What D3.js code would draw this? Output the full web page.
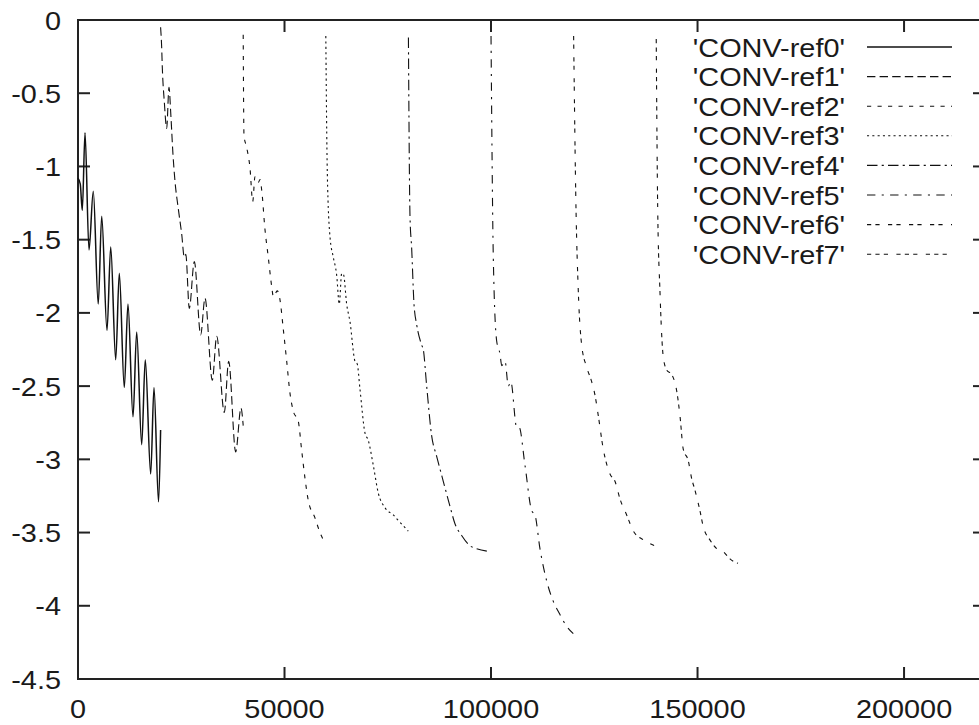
<!DOCTYPE html>
<html>
<head>
<meta charset="utf-8">
<script src="https://cdn.jsdelivr.net/npm/d3@7"></script>
<style>
  body { margin: 0; background: #fff; }
  text { font-family: "Liberation Sans", Arial, Helvetica, sans-serif; fill: #1a1a1a; }
</style>
</head>
<body>
<div id="chart"></div>
<script>
// data: [iteration, log10 residual]
var ref0 = [[0,-1.08],[550,-1.12],[1040,-1.30],[1700,-0.77],[2660,-1.57],[3700,-1.17],[4900,-1.94],
  [5740,-1.34],[7020,-2.12],[7920,-1.55],[9130,-2.32],[10000,-1.73],[11210,-2.51],[12100,-1.94],
  [13320,-2.71],[14210,-2.13],[15420,-2.90],[16290,-2.32],[17600,-3.10],[18400,-2.51],[19500,-3.29],[20000,-2.80]];
var ref1 = [[20000,-0.05],[20250,-0.18],[20420,-0.33],[20900,-0.56],[21470,-0.74],[22030,-0.46],[22500,-0.66],
  [23000,-0.92],[23480,-1.10],[24290,-1.29],[25100,-1.46],[25740,-1.62],[26100,-1.60],[26950,-1.97],
  [28160,-1.65],[29700,-2.15],[30750,-1.90],[32520,-2.46],[33580,-2.16],[35420,-2.68],[36480,-2.33],
  [38180,-2.95],[39460,-2.65],[40000,-2.77]];
var ref2 = [[40000,-0.10],[40190,-0.79],[40840,-0.87],[41640,-1.01],[42300,-1.24],[42850,-1.07],[43650,-1.11],
  [44060,-1.09],[44470,-1.16],[45270,-1.43],[46070,-1.62],[46900,-1.82],[47300,-1.89],[48250,-1.85],
  [48900,-1.91],[49700,-2.11],[50530,-2.33],[51330,-2.55],[52120,-2.67],[53330,-2.74],[54160,-2.94],
  [54960,-3.13],[55750,-3.28],[57380,-3.40],[58590,-3.50],[59800,-3.57]];
var ref3 = [[60000,-0.11],[60360,-1.04],[61010,-1.48],[61810,-1.62],[62620,-1.74],[63260,-1.94],[63840,-1.73],
  [64300,-1.74],[65050,-1.94],[65850,-2.06],[67060,-2.33],[67620,-2.35],[68270,-2.52],[69480,-2.82],
  [70280,-2.87],[71490,-3.04],[72700,-3.23],[74320,-3.33],[76330,-3.38],[77960,-3.43],[79970,-3.49]];
var ref4 = [[80000,-0.12],[80380,-1.34],[80790,-1.56],[81350,-1.94],[82000,-2.08],[83210,-2.22],[83600,-2.25],
  [84420,-2.50],[85630,-2.84],[86840,-2.98],[88440,-3.15],[90060,-3.32],[91270,-3.44],[92890,-3.52],
  [94900,-3.59],[96520,-3.61],[99750,-3.63]];
var ref5 = [[100000,-0.11],[100550,-1.62],[101360,-2.19],[102170,-2.28],[102600,-2.36],[103400,-2.33],
  [104180,-2.50],[104800,-2.47],[106200,-2.78],[106800,-2.78],[108220,-3.04],[109840,-3.35],[110640,-3.38],
  [111850,-3.61],[113470,-3.83],[115080,-3.97],[116690,-4.06],[118310,-4.14],[119920,-4.19]];
var ref6 = [[120000,-0.11],[120570,-1.28],[121130,-1.85],[121950,-2.22],[123150,-2.37],[124370,-2.47],
  [125160,-2.56],[125960,-2.70],[127180,-2.93],[128800,-3.10],[130010,-3.15],[131220,-3.27],[132840,-3.38],
  [134460,-3.49],[136870,-3.55],[139690,-3.59]];
var ref7 = [[140000,-0.13],[140350,-1.28],[140900,-1.85],[141700,-2.30],[142530,-2.39],[143730,-2.42],
  [144940,-2.53],[145740,-2.70],[146540,-2.93],[147760,-3.01],[148570,-3.13],[149370,-3.21],[150580,-3.35],
  [151390,-3.46],[153000,-3.55],[154630,-3.61],[156230,-3.63],[157850,-3.68],[159800,-3.71]];

var names = ["'CONV-ref0'", "'CONV-ref1'", "'CONV-ref2'", "'CONV-ref3'",
             "'CONV-ref4'", "'CONV-ref5'", "'CONV-ref6'", "'CONV-ref7'"];
var series = [ref0, ref1, ref2, ref3, ref4, ref5, ref6, ref7];
var xTicks = [0, 50000, 100000, 150000, 200000];
var yTicks = [0, -0.5, -1, -1.5, -2, -2.5, -3, -3.5, -4, -4.5];

// gnuplot postscript dash patterns
var dashes = ["none", "8.4,4.2", "4.2,6.3", "2.1,3.2", "10.5,4.2,2.1,4.2",
              "8.4,6.3,2.1,6.3", "4.2,4.2,4.2,8.4", "4.2,4.2,4.2,4.2,4.2,8.4"];

var W = 979, H = 725;
var plot = {left: 78, top: 20, right: 985, bottom: 679};

var svg = d3.select("#chart").append("svg")
    .attr("width", W)
    .attr("height", H);

var x = d3.scaleLinear().domain([0, 219600]).range([plot.left, plot.right]);
var y = d3.scaleLinear().domain([-4.5, 0]).range([plot.bottom, plot.top]);

// text in the original is a bit wider than Helvetica
function label(g, tx, ty, str, anchor) {
  return g.append("text")
    .attr("transform", "translate(" + tx + "," + ty + ") scale(1.09,1)")
    .attr("text-anchor", anchor)
    .style("font-size", "26.5px")
    .text(str);
}

var axes = svg.append("g");
var tick = 12;

yTicks.forEach(function(v) {
  axes.append("line").attr("x1", plot.left).attr("x2", plot.left + tick)
    .attr("y1", y(v)).attr("y2", y(v)).attr("stroke", "#222").attr("stroke-width", 2);
  axes.append("line").attr("x1", plot.right).attr("x2", plot.right - tick)
    .attr("y1", y(v)).attr("y2", y(v)).attr("stroke", "#222").attr("stroke-width", 2);
  label(axes, 61, y(v) + 9.5, String(v), "end");
});

xTicks.forEach(function(v) {
  axes.append("line").attr("x1", x(v)).attr("x2", x(v))
    .attr("y1", plot.bottom).attr("y2", plot.bottom - tick).attr("stroke", "#222").attr("stroke-width", 2);
  axes.append("line").attr("x1", x(v)).attr("x2", x(v))
    .attr("y1", plot.top).attr("y2", plot.top + tick).attr("stroke", "#222").attr("stroke-width", 2);
  label(axes, x(v), 718, String(v), "middle");
});

axes.append("rect")
  .attr("x", plot.left).attr("y", plot.top)
  .attr("width", plot.right - plot.left).attr("height", plot.bottom - plot.top)
  .attr("fill", "none").attr("stroke", "#222").attr("stroke-width", 2);

var line = d3.line()
  .x(function(d) { return x(d[0]); })
  .y(function(d) { return y(d[1]); })
  .curve(d3.curveMonotoneX);

svg.append("g").selectAll("path")
  .data(series)
  .enter().append("path")
    .attr("d", line)
    .attr("fill", "none")
    .attr("stroke", "#111")
    .attr("stroke-width", function(d, i) { return i == 0 ? 1.5 : 1.1; })
    .attr("stroke-dasharray", function(d, i) { return dashes[i]; });

// key, top right
var key = svg.append("g");
names.forEach(function(n, i) {
  var ky = 47 + i * 29.6;
  label(key, 845, ky + 9.5, n, "end");
  key.append("line")
    .attr("x1", 867).attr("x2", 952)
    .attr("y1", ky).attr("y2", ky)
    .attr("stroke", "#111").attr("stroke-width", i == 0 ? 1.5 : 1.1)
    .attr("stroke-dasharray", dashes[i]);
});
</script>
</body>
</html>
